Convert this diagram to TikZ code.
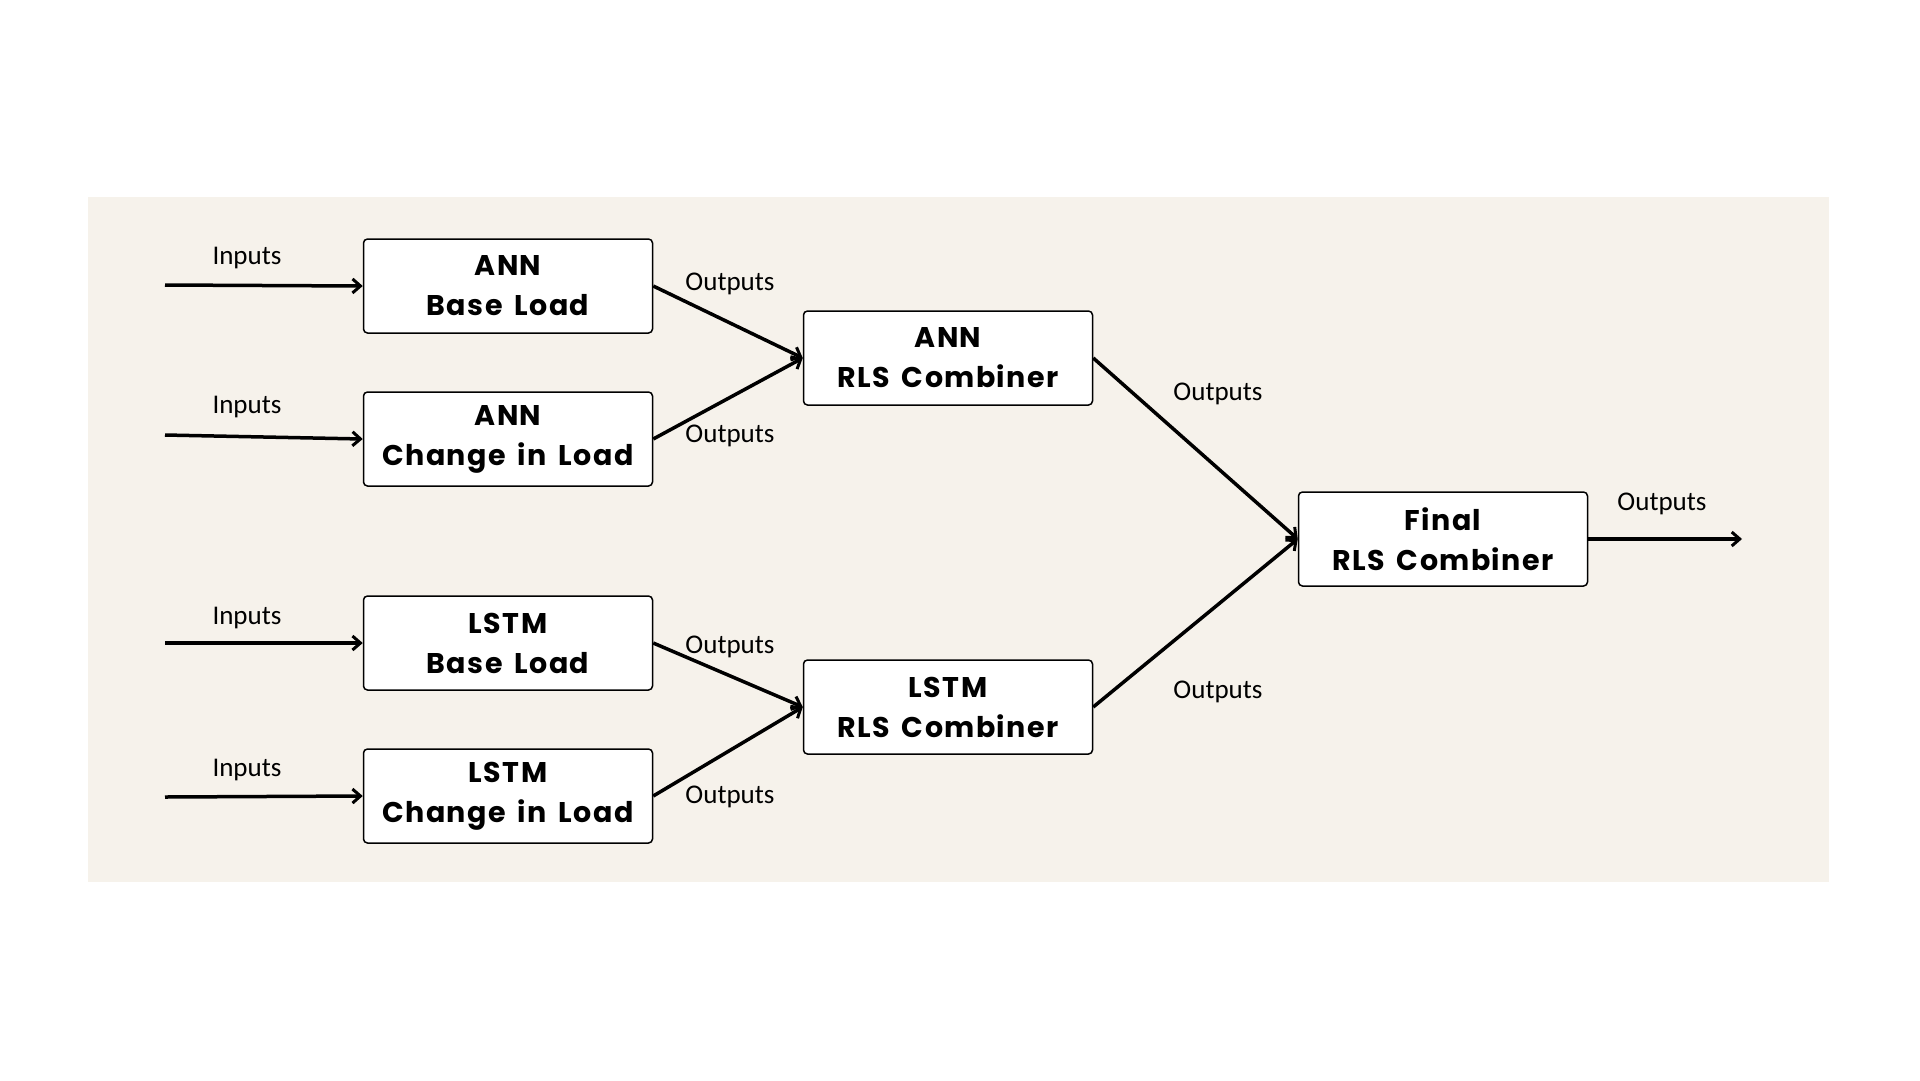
\documentclass[tikz,border=0pt]{standalone}
\usepackage{fontspec}
\setmainfont{Carlito}
\newfontfamily\boxfont{Poppins}[LetterSpace=5]
\newcommand\wsp{\hskip 0.42em\relax}
\usetikzlibrary{arrows.meta}
\definecolor{bgc}{HTML}{F6F2EB}
\begin{document}
\begin{tikzpicture}[x=1pt,y=-1pt,
  blk/.style={draw=black,line width=1.5pt,fill=white,rounded corners=4pt,
    minimum width=289pt,minimum height=94pt,inner sep=0pt,align=center,
    font=\boxfont\bfseries\fontsize{28.5}{40}\selectfont},
  lbl/.style={font=\fontsize{27}{30}\selectfont,inner sep=0pt},
  conn/.style={line width=3.5pt,-{Straight Barb[length=8pt,width=14pt,line width=3pt]}}]
\useasboundingbox (0,0) rectangle (1920,1080);
\fill[bgc] (88,197) rectangle (1829,882);
\node[blk] (ab) at (508,286) {ANN\\Base\wsp Load};
\node[blk] (ac) at (508,439) {ANN\\Change\wsp in\wsp Load};
\node[blk] (lb) at (508,643) {LSTM\\Base\wsp Load};
\node[blk] (lc) at (508,796) {LSTM\\Change\wsp in\wsp Load};
\node[blk] (ar) at (948,358) {ANN\\RLS\wsp Combiner};
\node[blk] (lr) at (948,707) {LSTM\\RLS\wsp Combiner};
\node[blk] (fr) at (1443,539) {Final\\RLS\wsp Combiner};
\coordinate (i1) at (165,285);
\coordinate (i2) at (165,435);
\coordinate (i3) at (165,643);
\coordinate (i4) at (165,797);
\coordinate (o) at (1742,539);
\draw[conn] (i1) -- (ab.west);
\draw[conn] (i2) -- (ac.west);
\draw[conn] (i3) -- (lb.west);
\draw[conn] (i4) -- (lc.west);
\draw[conn] (ab.east) -- (ar.west);
\draw[conn] (ac.east) -- (ar.west);
\draw[conn] (lb.east) -- (lr.west);
\draw[conn] (lc.east) -- (lr.west);
\draw[conn] (ar.east) -- (fr.west);
\draw[conn] (lr.east) -- (fr.west);
\draw[conn] (fr.east) -- (o);
\node[lbl] (t1) at (247,258) {Inputs};
\node[lbl] (t2) at (247,407) {Inputs};
\node[lbl] (t3) at (247,618) {Inputs};
\node[lbl] (t4) at (247,770) {Inputs};
\node[lbl] (u1) at (730,284) {Outputs};
\node[lbl] (u2) at (730,436) {Outputs};
\node[lbl] (u3) at (730,647) {Outputs};
\node[lbl] (u4) at (730,797) {Outputs};
\node[lbl] (u5) at (1218,394) {Outputs};
\node[lbl] (u6) at (1218,692) {Outputs};
\node[lbl] (u7) at (1662,504) {Outputs};
\end{tikzpicture}
\end{document}
